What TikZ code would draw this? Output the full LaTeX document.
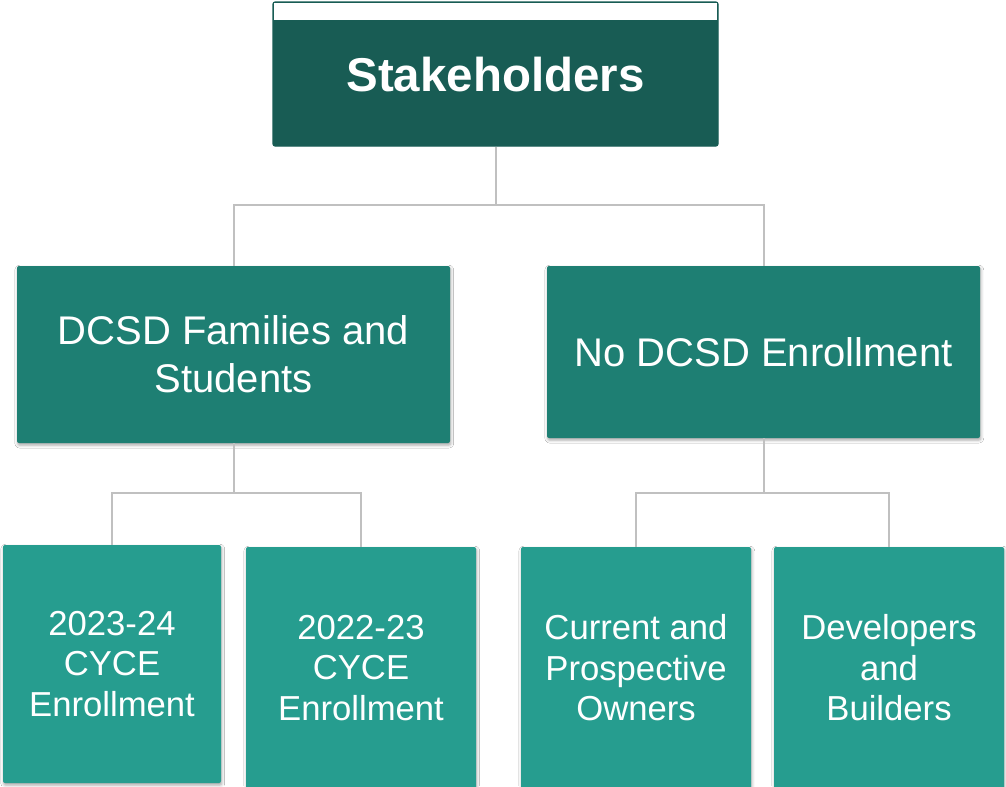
\documentclass[tikz,border=0pt]{standalone}
\usepackage{fontspec}
\setmainfont{Liberation Sans}
\usetikzlibrary{shadows.blur}
\definecolor{rootgreen}{HTML}{185C54}
\definecolor{midgreen}{HTML}{1E7F73}
\definecolor{leafgreen}{HTML}{269D8F}
\definecolor{linkgray}{HTML}{C0C0C0}
\begin{document}
\begin{tikzpicture}[x=0.75pt,y=-0.75pt,
  box/.style={rectangle, rounded corners=1.5pt, inner sep=0pt, text=white, align=center},
  rootbox/.style={box, fill=rootgreen, draw=rootgreen, line width=0.8pt,
    minimum width=445*0.75pt, minimum height=144*0.75pt},
  midbox/.style={box, fill=midgreen, minimum width=433*0.75pt,
    font=\fontsize{30}{36}\selectfont,
    blur shadow={shadow xshift=0.6pt, shadow yshift=-1.6pt, shadow blur radius=2.2pt, shadow opacity=35}},
  leafbox/.style={box, fill=leafgreen, font=\fontsize{26}{30.4}\selectfont,
    blur shadow={shadow xshift=0.6pt, shadow yshift=-1.6pt, shadow blur radius=2.2pt, shadow opacity=35}},
  link/.style={draw=linkgray, line width=1.5pt}]
\useasboundingbox[fill=white] (0,0) rectangle (1006,786);

% root node with its white header strip
\node[rootbox] (root) at (495.5,74) {};
\fill[white] (274,3) rectangle (717,20);
\node[text=white, font=\fontsize{35.6}{42}\bfseries\selectfont] (roottext) at (495.5,74.5) {Stakeholders};

% second level
\node[midbox, minimum height=177*0.75pt] (fam) at (233.5,354.5) {DCSD Families and\\Students};
\node[midbox, minimum height=172*0.75pt] (none) at (763.5,352) {No DCSD Enrollment};

% third level
\node[leafbox, minimum width=218*0.75pt, minimum height=238*0.75pt] (y24) at (112,664) {2023-24\\CYCE\\Enrollment};
\node[leafbox, minimum width=230*0.75pt, minimum height=242*0.75pt] (y23) at (361,668) {2022-23\\CYCE\\Enrollment};
\node[leafbox, minimum width=230*0.75pt, minimum height=242*0.75pt] (own) at (636,668) {Current and\\Prospective\\Owners};
\node[leafbox, minimum width=230*0.75pt, minimum height=242*0.75pt] (dev) at (889,668) {Developers\\and\\Builders};

% elbow connectors
\coordinate (jr) at (495.5,205);
\coordinate (jf) at (233.5,493);
\coordinate (jn) at (763.5,493);
\draw[link] (root.south) -- (jr);
\draw[link] (jr) -| (fam.north);
\draw[link] (jr) -| (none.north);
\draw[link] (fam.south) -- (jf);
\draw[link] (jf) -| (y24.north);
\draw[link] (jf) -| (y23.north);
\draw[link] (none.south) -- (jn);
\draw[link] (jn) -| (own.north);
\draw[link] (jn) -| (dev.north);
\end{tikzpicture}
\end{document}
